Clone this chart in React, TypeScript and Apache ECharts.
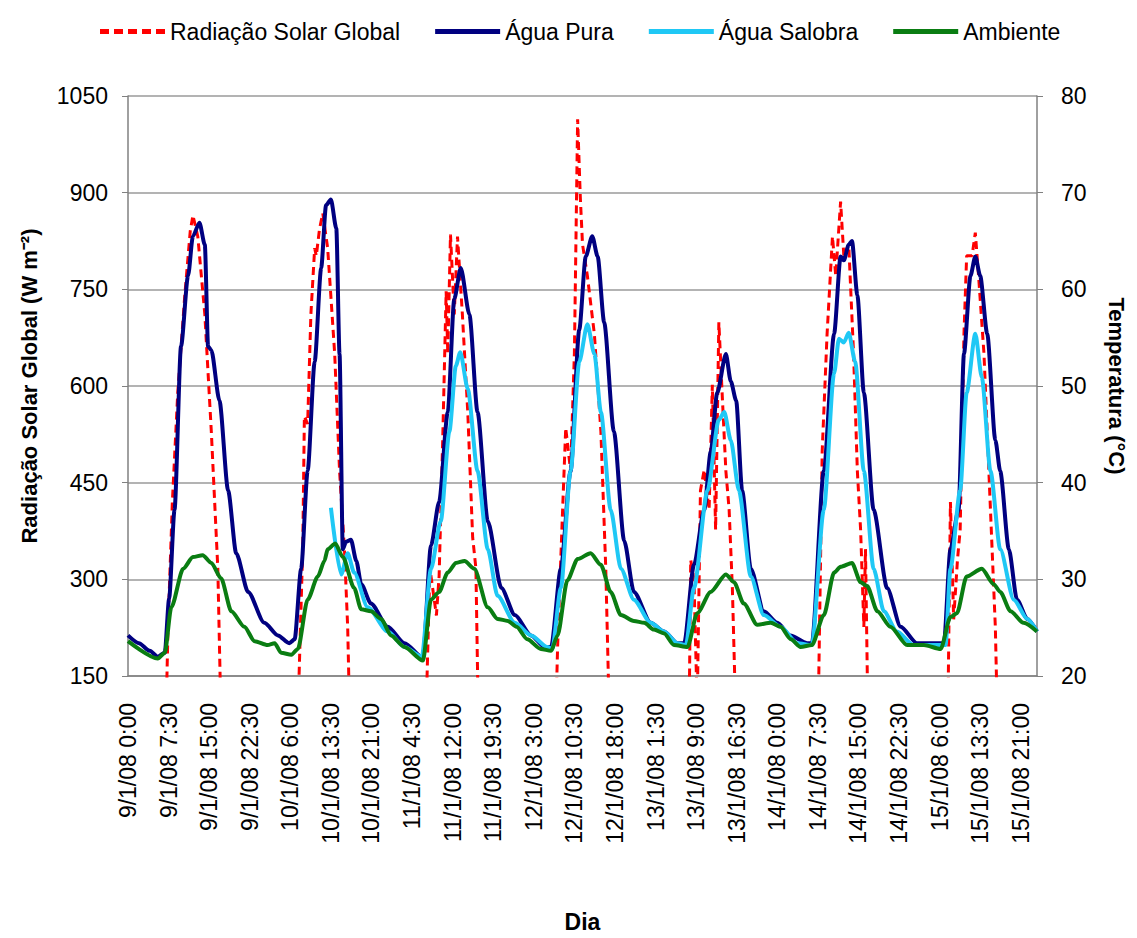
import React, { useEffect, useRef } from "react";
import * as echarts from "echarts";

// time in hours since 9/1/08 0:00
const radiacao: [number, number][] = [
  [0, 0], [6.8, 0], [7.4, 226], [8.2, 420], [9.2, 590], [10.5, 741], [11.5, 840], [12.0, 865], [12.9, 832], [14.2, 711], [15.4, 529], [16.6, 317], [17.4, 0],
  [31.1, 0], [32.3, 350], [32.6, 553], [33.2, 541], [33.8, 711], [34.5, 814], [34.8, 802], [35.4, 844], [36.0, 868], [36.9, 814], [38.2, 650], [39.1, 468], [40.0, 347], [40.6, 226], [41.2, 0],
  [54.8, 0], [55.8, 317], [57.0, 244], [57.5, 305], [58.2, 529], [58.8, 747], [59.1, 650], [59.6, 835], [60.3, 711], [60.9, 832], [61.8, 711], [62.8, 559], [63.7, 365], [64.3, 317], [64.9, 0],
  [78.8, 0], [79.4, 195], [80.2, 380], [80.9, 535], [81.8, 468], [82.5, 650], [83.1, 1014], [83.6, 892], [84.0, 820], [84.9, 771], [86.2, 680], [87.4, 529], [88.3, 317], [89.2, 0],
  [103.6, 0], [104.0, 330], [104.6, 300], [105.2, 100], [105.8, 438], [106.5, 470], [107.4, 408], [108.0, 602], [108.6, 377], [109.2, 699], [109.8, 590], [110.5, 468], [111.1, 408], [111.7, 286], [112.6, 0],
  [127.4, 0], [128.3, 499], [129.2, 680], [130.2, 832], [130.8, 771], [131.7, 886], [132.3, 802], [133.2, 820], [134.1, 650], [134.8, 468], [135.4, 377], [136.0, 226], [136.3, 347], [136.9, 0],
  [151.4, 0], [152.0, 420], [152.6, 238], [153.3, 330], [153.8, 377], [154.5, 680], [155.0, 802], [156.0, 802], [156.6, 838], [157.2, 771], [158.2, 650], [158.8, 529], [159.7, 347], [160.3, 226], [160.9, 0], [168, 0],
];

const aguaPura: [number, number][] = [
  [0, 24.2], [2, 23.4], [4, 22.6], [5.5, 22.0], [6.8, 22.4], [7.6, 28], [8.6, 37.2], [9.8, 54.1], [11.1, 61.4], [12.0, 65.5], [13.2, 66.9], [14.2, 64.6], [14.8, 54.1], [15.4, 53.7], [16.9, 48.5], [18.5, 39.2], [20.0, 32.7], [22.2, 28.7], [25.2, 25.5], [27.7, 24.2], [29.8, 23.4], [30.8, 23.8],
  [32.0, 31.1], [33.2, 41.2], [34.5, 52.5], [35.7, 62.2], [36.6, 68.7], [37.5, 69.3], [38.5, 66.3], [39.1, 53.3], [39.7, 33.1], [40.3, 33.9], [41.2, 34.1], [42.2, 31.9], [43.1, 29.5], [44.9, 27.5], [48.0, 25.1], [51.1, 23.4], [54.5, 21.9],
  [56.0, 33.5], [57.5, 38.0], [59.1, 47.3], [60.3, 59.0], [61.5, 62.2], [63.1, 57.4], [64.6, 47.3], [66.5, 36.0], [69.0, 29.1], [71.5, 26.3], [74.5, 24.2], [77.0, 23.0], [78.2, 23.0],
  [80.0, 31.1], [81.8, 41.2], [83.4, 55.8], [84.6, 63.4], [85.8, 65.5], [86.8, 63.4], [88.0, 56.6], [89.8, 45.3], [91.7, 34.0], [93.5, 28.7], [96.6, 25.5], [99.1, 24.6], [101.5, 23.4], [102.8, 23.4],
  [104.6, 31.5], [106.5, 37.2], [107.7, 43.2], [108.9, 49.3], [110.5, 53.3], [111.4, 50.5], [112.4, 48.5], [113.5, 39.2], [115.1, 31.1], [117.5, 26.7], [120.0, 25.5], [122.4, 24.2], [125.5, 23.4], [126.4, 23.4],
  [128.6, 41.2], [130.5, 55.4], [131.7, 63.4], [132.3, 63.0], [133.2, 64.6], [133.8, 65.0], [134.8, 59.4], [136.0, 49.3], [137.8, 37.2], [140.3, 29.1], [142.8, 25.1], [145.8, 23.4], [148.3, 23.4], [150.8, 23.4],
  [152.0, 33.1], [153.5, 37.2], [154.5, 53.3], [155.7, 61.4], [156.6, 63.4], [157.5, 61.4], [158.8, 55.4], [160.3, 44.4], [161.2, 41.2], [162.8, 33.1], [164.3, 27.9], [166.2, 25.9], [168.0, 24.6],
];

const aguaSalobra: [number, number][] = [
  [37.5, 37.4], [39.4, 30.5], [40.6, 32.7], [41.8, 30.7], [44.3, 27.1], [48.0, 24.6], [51.1, 23.0], [54.3, 22.0],
  [56.0, 31.1], [57.8, 36.0], [59.4, 45.3], [60.6, 52.1], [61.4, 53.5], [62.8, 49.7], [64.6, 41.2], [66.5, 33.1], [68.3, 28.3], [71.5, 25.5], [74.5, 24.2], [77.5, 23.0], [78.4, 22.8],
  [80.0, 29.1], [81.8, 41.2], [83.4, 52.5], [84.9, 56.4], [86.2, 53.3], [87.4, 47.3], [89.2, 37.2], [91.1, 31.1], [93.5, 27.9], [96.6, 25.5], [99.1, 24.6], [101.5, 23.4], [103.1, 23.2],
  [104.6, 29.1], [107.1, 39.2], [109.2, 46.5], [110.2, 47.3], [111.4, 44.4], [112.9, 39.2], [115.1, 30.3], [117.5, 26.3], [120.6, 25.1], [123.7, 23.4], [126.4, 23.2],
  [128.6, 37.2], [130.5, 51.3], [131.4, 54.9], [132.3, 54.5], [133.2, 55.5], [134.4, 52.5], [136.0, 41.2], [137.8, 31.1], [139.7, 26.7], [142.1, 24.6], [145.2, 23.2], [148.3, 23.2], [151.1, 23.2],
  [152.0, 31.1], [153.8, 39.2], [155.0, 49.3], [156.6, 55.4], [157.8, 50.9], [159.4, 41.2], [161.2, 33.1], [163.7, 27.9], [166.2, 25.9], [168.0, 24.6],
];

const ambiente: [number, number][] = [
  [0, 23.6], [5.5, 21.8], [6.8, 22.4], [8.0, 27.1], [10.2, 31.1], [12.0, 32.3], [13.8, 32.5], [15.4, 31.7], [17.2, 30.1], [19.1, 26.7], [21.5, 25.1], [23.4, 23.6], [25.8, 23.2], [27.1, 23.4], [28.3, 22.4], [30.2, 22.2], [31.4, 22.8],
  [33.2, 27.9], [35.1, 30.3], [36.3, 31.9], [36.9, 33.1], [38.3, 33.7], [39.7, 32.3], [41.8, 29.1], [43.1, 26.9], [44.9, 26.7], [46.8, 25.9], [48.6, 24.2], [51.1, 23.0], [54.5, 21.6],
  [56.0, 27.9], [57.5, 28.7], [59.1, 30.7], [60.6, 31.7], [62.2, 31.9], [64.0, 31.1], [66.5, 27.1], [68.3, 25.9], [70.2, 25.7], [71.8, 25.1], [73.8, 23.8], [76.3, 22.8], [78.2, 22.6],
  [79.4, 24.2], [81.2, 29.9], [83.1, 32.1], [85.5, 32.7], [87.4, 31.5], [89.2, 28.7], [91.1, 26.3], [93.5, 25.7], [95.4, 25.5], [97.2, 24.8], [99.1, 24.4], [100.9, 23.2], [103.4, 23.0],
  [105.2, 26.5], [107.7, 28.7], [110.5, 30.5], [112.0, 29.7], [113.8, 27.5], [116.3, 25.3], [118.8, 25.5], [120.6, 25.1], [122.5, 23.8], [124.3, 23.0], [126.4, 23.2],
  [128.6, 26.3], [130.5, 30.7], [131.7, 31.3], [133.8, 31.7], [135.4, 29.7], [136.6, 29.3], [138.5, 26.7], [140.9, 25.1], [144.0, 23.2], [147.1, 23.2], [150.2, 22.8],
  [152.0, 26.1], [153.2, 26.5], [155.0, 30.3], [157.8, 31.1], [160.0, 29.5], [161.2, 28.7], [163.1, 26.7], [165.5, 25.5], [168.0, 24.6],
];

const legendNames = ["Radiação Solar Global", "Água Pura", "Água Salobra", "Ambiente"];

const FONT = "'Liberation Sans', Arial, sans-serif";
const DASH_ICON = "path://M0,0h9v5h-9z M14,0h9v5h-9z M28,0h9v5h-9z M42,0h9v5h-9z M56,0h9v5h-9z";
const SOLID_ICON = "path://M0,0h65v5h-65z";

function fmtTime(t: number): string {
  const day = 9 + Math.floor(t / 24 + 1e-9);
  const rem = t - (day - 9) * 24;
  const h = Math.floor(rem + 1e-9);
  const m = Math.round((rem - h) * 60);
  return `${day}/1/08 ${h}:${m < 10 ? "0" + m : m}`;
}

export default function App() {
  const ref = useRef<HTMLDivElement>(null);
  useEffect(() => {
    document.body.style.margin = "0";
    const chart = echarts.init(ref.current!, null, { renderer: "svg" });
    chart.setOption({
      animation: false,
      backgroundColor: "#ffffff",
      textStyle: { fontFamily: FONT },
      legend: {
        left: 95,
        top: 15,
        itemWidth: 65,
        itemHeight: 5,
        itemGap: 35,
        textStyle: { fontSize: 23, color: "#000", fontFamily: FONT },
        data: legendNames.map((n, i) => ({ name: n, icon: i === 0 ? DASH_ICON : SOLID_ICON })),
      },
      grid: { left: 128, right: 100, top: 96, bottom: 262 },
      xAxis: {
        type: "value",
        min: 0,
        max: 168,
        interval: 7.5,
        name: "Dia",
        nameLocation: "middle",
        nameGap: 234,
        nameTextStyle: { fontSize: 23, fontWeight: "bold", color: "#000", fontFamily: FONT },
        axisLine: { show: true, onZero: false, lineStyle: { color: "#808080", width: 1.5 } },
        axisTick: { show: false },
        splitLine: { show: false },
        axisLabel: {
          rotate: 90,
          margin: 27,
          fontSize: 23,
          color: "#000",
          fontFamily: FONT,
          showMaxLabel: false,
          formatter: (v: number) => fmtTime(v),
        },
      },
      yAxis: [
        {
          type: "value",
          min: 150,
          max: 1050,
          interval: 150,
          position: "left",
          name: "Radiação Solar Global (W m⁻²)",
          nameLocation: "middle",
          nameRotate: 90,
          nameGap: 88,
          nameTextStyle: { fontSize: 22, fontWeight: "bold", color: "#000", fontFamily: FONT },
          axisLine: { show: true, lineStyle: { color: "#808080", width: 1.5 } },
          axisTick: { show: true, length: 6, lineStyle: { color: "#808080" } },
          splitLine: { show: true, lineStyle: { color: "#9a9a9a", width: 1.5 } },
          axisLabel: { fontSize: 23, color: "#000", margin: 20, fontFamily: FONT, formatter: (v: number) => String(v) },
        },
        {
          type: "value",
          min: 20,
          max: 80,
          interval: 10,
          position: "right",
          name: "Temperatura (°C)",
          nameLocation: "middle",
          nameRotate: -90,
          nameGap: 68,
          nameTextStyle: { fontSize: 22, fontWeight: "bold", color: "#000", fontFamily: FONT },
          axisLine: { show: true, lineStyle: { color: "#808080", width: 1.5 } },
          axisTick: { show: true, length: 6, lineStyle: { color: "#808080" } },
          splitLine: { show: false },
          axisLabel: { fontSize: 23, color: "#000", margin: 24, fontFamily: FONT },
        },
      ],
      series: [
        {
          name: "Radiação Solar Global",
          type: "line",
          yAxisIndex: 0,
          data: radiacao,
          symbol: "none",
          clip: true,
          itemStyle: { color: "#ff0000" },
          lineStyle: { color: "#ff0000", width: 3, type: [8, 5] },
        },
        {
          name: "Água Pura",
          type: "line",
          yAxisIndex: 1,
          data: aguaPura,
          symbol: "none",
          smooth: 0.25,
          smoothMonotone: "x",
          itemStyle: { color: "#000080" },
          lineStyle: { color: "#000080", width: 4 },
        },
        {
          name: "Água Salobra",
          type: "line",
          yAxisIndex: 1,
          data: aguaSalobra,
          symbol: "none",
          smooth: 0.25,
          smoothMonotone: "x",
          itemStyle: { color: "#1fc8f5" },
          lineStyle: { color: "#1fc8f5", width: 4 },
        },
        {
          name: "Ambiente",
          type: "line",
          yAxisIndex: 1,
          data: ambiente,
          symbol: "none",
          smooth: 0.25,
          smoothMonotone: "x",
          itemStyle: { color: "#0a7d12" },
          lineStyle: { color: "#0a7d12", width: 4 },
        },
      ],
    });
    return () => chart.dispose();
  }, []);
  return <div ref={ref} style={{ width: 1137, height: 938 }} />;
}
